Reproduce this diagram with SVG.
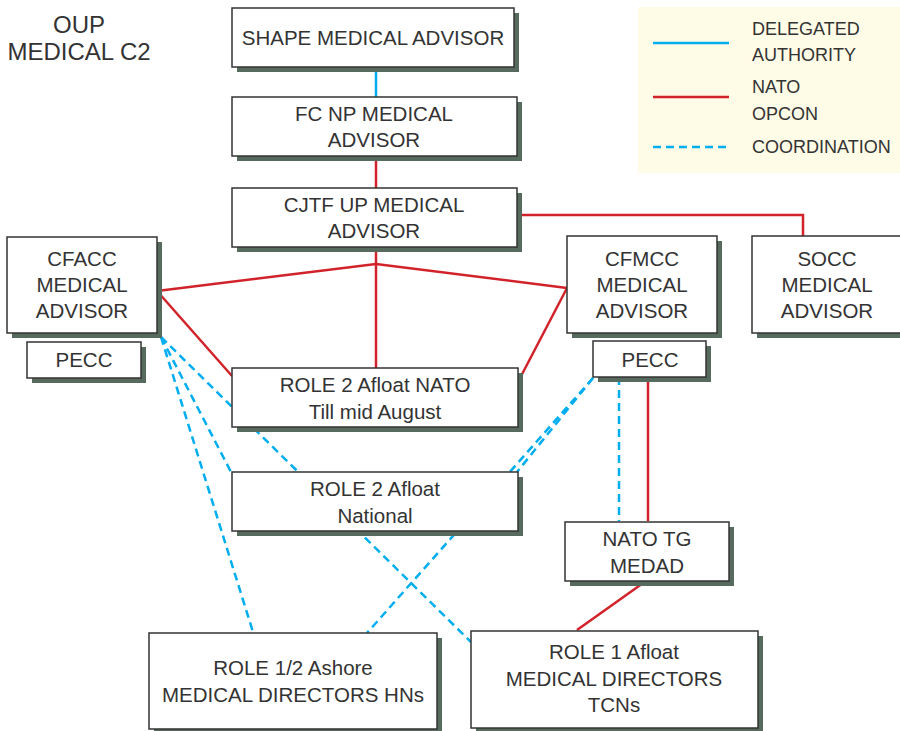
<svg xmlns="http://www.w3.org/2000/svg" width="900" height="731" viewBox="0 0 900 731">
<style>
.box{fill:#fff;stroke:#333;stroke-width:1.5}
.sh{fill:#566a5e}
text{font-family:"Liberation Sans",Arial,sans-serif;font-size:20.5px;fill:#333;text-anchor:middle}
.red{stroke:#d2232a;stroke-width:2.5;fill:none}
.blue{stroke:#00aeef;stroke-width:2.5;fill:none}
.dash{stroke:#00aeef;stroke-width:2.5;fill:none;stroke-dasharray:8 5}
.leg{text-anchor:start;font-size:18px}
</style>
<rect width="900" height="731" fill="#fff"/>
<g id="title"><text x="79" y="33" style="font-size:24px">OUP</text><text x="79" y="60" style="font-size:24px">MEDICAL C2</text></g>
<g id="legend">
<rect x="638" y="7" width="262" height="166" fill="#fefbe6"/>
<line x1="653" y1="43" x2="729" y2="43" class="blue"/>
<line x1="653" y1="97" x2="729" y2="97" class="red"/>
<line x1="653" y1="147" x2="729" y2="147" class="dash"/>
<text class="leg" x="752" y="35">DELEGATED</text>
<text class="leg" x="752" y="61">AUTHORITY</text>
<text class="leg" x="752" y="93">NATO</text>
<text class="leg" x="752" y="120">OPCON</text>
<text class="leg" x="752" y="153">COORDINATION</text>
</g>
<g id="connectors">
<line x1="376" y1="67" x2="376" y2="97" class="blue"/>
<line x1="376" y1="156" x2="376" y2="188" class="red"/>
<polyline points="376,247 376,264" class="red"/>
<line x1="376" y1="264" x2="376" y2="368" class="red"/>
<line x1="376" y1="264" x2="157" y2="291" class="red"/>
<line x1="376" y1="264" x2="567" y2="288" class="red"/>
<line x1="157" y1="291" x2="232" y2="376" class="red"/>
<line x1="567" y1="288" x2="519" y2="380" class="red"/>
<polyline points="517,215 803,215 803,236" class="red"/>
<line x1="648" y1="377" x2="648" y2="521" class="red"/>
<line x1="646" y1="581" x2="577" y2="630" class="red"/>
<line x1="619" y1="377" x2="619" y2="521" class="dash"/>
<line x1="161" y1="337" x2="253" y2="632" class="dash"/>
<line x1="161" y1="337" x2="231" y2="472" class="dash"/>
<line x1="161" y1="337" x2="471" y2="642" class="dash"/>
<line x1="593" y1="378" x2="517" y2="472" class="dash"/>
<line x1="593" y1="378" x2="367" y2="633" class="dash"/>
</g>
<g id="shape"><rect class="sh" x="237" y="13" width="282" height="59"/><rect class="box" x="232" y="8" width="282" height="59"/><text x="373" y="45">SHAPE MEDICAL ADVISOR</text></g>
<g id="fcnp"><rect class="sh" x="237" y="102" width="285" height="59"/><rect class="box" x="232" y="97" width="285" height="59"/><text x="374" y="121">FC NP MEDICAL</text><text x="374" y="147">ADVISOR</text></g>
<g id="cjtf"><rect class="sh" x="237" y="193" width="285" height="59"/><rect class="box" x="232" y="188" width="285" height="59"/><text x="374" y="212">CJTF UP MEDICAL</text><text x="374" y="238">ADVISOR</text></g>
<g id="cfacc"><rect class="sh" x="12" y="242" width="150" height="96"/><rect class="box" x="7" y="237" width="150" height="96"/><text x="82" y="266">CFACC</text><text x="82" y="292">MEDICAL</text><text x="82" y="318">ADVISOR</text></g>
<g id="pecc1"><rect class="sh" x="32" y="347" width="114" height="36"/><rect class="box" x="27" y="342" width="114" height="36"/><text x="84" y="367">PECC</text></g>
<g id="cfmcc"><rect class="sh" x="572" y="241" width="150" height="97"/><rect class="box" x="567" y="236" width="150" height="97"/><text x="642" y="266">CFMCC</text><text x="642" y="292">MEDICAL</text><text x="642" y="318">ADVISOR</text></g>
<g id="pecc2"><rect class="sh" x="598" y="346" width="113" height="36"/><rect class="box" x="593" y="341" width="113" height="36"/><text x="650" y="367">PECC</text></g>
<g id="socc"><rect class="sh" x="757" y="241" width="150" height="97"/><rect class="box" x="752" y="236" width="150" height="97"/><text x="827" y="266">SOCC</text><text x="827" y="292">MEDICAL</text><text x="827" y="318">ADVISOR</text></g>
<g id="role2nato"><rect class="sh" x="237" y="373" width="286" height="59"/><rect class="box" x="232" y="368" width="286" height="59"/><text x="375" y="392">ROLE 2 Afloat NATO</text><text x="375" y="419">Till mid August</text></g>
<g id="role2nat"><rect class="sh" x="237" y="477" width="286" height="59"/><rect class="box" x="232" y="472" width="286" height="59"/><text x="375" y="496">ROLE 2 Afloat</text><text x="375" y="523">National</text></g>
<g id="natotg"><rect class="sh" x="570" y="527" width="164" height="59"/><rect class="box" x="565" y="522" width="164" height="59"/><text x="647" y="546">NATO TG</text><text x="647" y="573">MEDAD</text></g>
<g id="role12"><rect class="sh" x="154" y="638" width="288" height="96"/><rect class="box" x="149" y="633" width="288" height="96"/><text x="293" y="675">ROLE 1/2 Ashore</text><text x="293" y="702">MEDICAL DIRECTORS HNs</text></g>
<g id="role1"><rect class="sh" x="476" y="636" width="287" height="97"/><rect class="box" x="471" y="631" width="287" height="97"/><text x="614" y="659">ROLE 1 Afloat</text><text x="614" y="686">MEDICAL DIRECTORS</text><text x="614" y="712">TCNs</text></g>
</svg>
